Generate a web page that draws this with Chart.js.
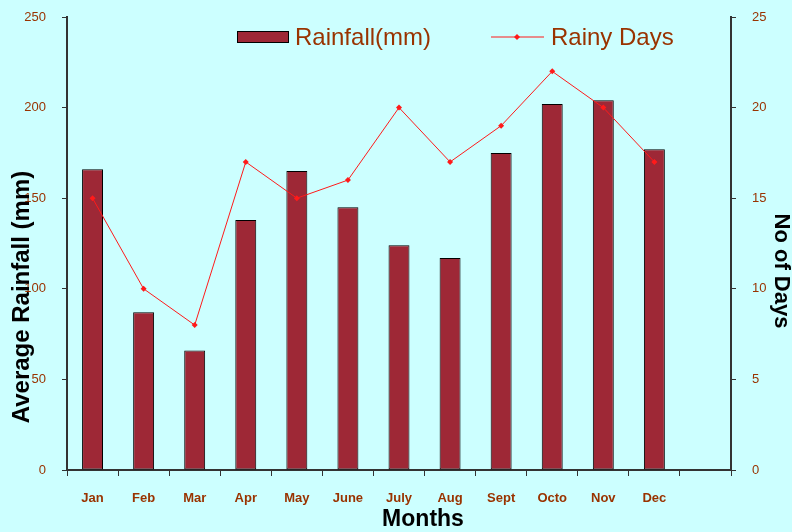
<!DOCTYPE html>
<html>
<head>
<meta charset="utf-8">
<script src="https://cdn.jsdelivr.net/npm/chart.js@4"></script>
<style>
  html, body { margin: 0; padding: 0; background: #ccffff; }
  #wrap { width: 792px; height: 532px; }
</style>
</head>
<body>
<div id="wrap"><canvas id="rain-chart" width="792" height="532"></canvas></div>
<script>
// months (last slot is left empty, as in the original)
const months = ["Jan", "Feb", "Mar", "Apr", "May", "June", "July", "Aug", "Sept", "Octo", "Nov", "Dec", ""];
const rainfall = [166, 87, 66, 138, 165, 145, 124, 117, 175, 202, 204, 177, null];
const rainyDays = [15, 10, 8, 17, 15, 16, 20, 17, 19, 22, 20, 17, null];
const brown = "#993300";
const fontName = "'Liberation Sans', Arial, sans-serif";

// legend drawn inside the plot area, bar swatch + line with marker
const insideLegend = {
    id: "insideLegend",
    afterDraw(chart) {
        const c = chart.ctx;
        const ds = chart.data.datasets;
        const area = chart.chartArea;
        let x = area.left + 170;
        const y = area.top + 20;
        c.save();
        c.font = "24px " + fontName;
        c.textBaseline = "middle";
        c.fillStyle = ds[0].backgroundColor;
        c.strokeStyle = "#000";
        c.lineWidth = 1;
        c.fillRect(x, y - 6, 52, 12);
        c.strokeRect(x + 0.5, y - 5.5, 51, 11);
        c.fillStyle = brown;
        c.fillText(ds[0].label, x + 58, y + 1);
        x += 58 + c.measureText(ds[0].label).width + 60;
        c.strokeStyle = ds[1].borderColor;
        c.beginPath();
        c.moveTo(x, y);
        c.lineTo(x + 53, y);
        c.stroke();
        c.fillStyle = ds[1].borderColor;
        c.beginPath();
        c.moveTo(x + 26, y - 3);
        c.lineTo(x + 29, y);
        c.lineTo(x + 26, y + 3);
        c.lineTo(x + 23, y);
        c.fill();
        c.fillStyle = brown;
        c.fillText(ds[1].label, x + 60, y + 1);
        c.restore();
    }
};

// axis titles, placed like the original (not centred on the axes)
const axisTitles = {
    id: "axisTitles",
    afterDraw(chart) {
        const c = chart.ctx;
        const area = chart.chartArea;
        c.save();
        c.fillStyle = "#000";
        c.textAlign = "center";
        c.textBaseline = "middle";
        c.font = "bold 23px " + fontName;
        c.fillText("Months", area.left + 356, chart.height - 12);
        c.save();
        c.font = "bold 24px " + fontName;
        c.translate(22, area.top + 280);
        c.rotate(-Math.PI / 2);
        c.fillText("Average Rainfall (mm)", 0, 0);
        c.restore();
        c.save();
        c.font = "bold 22px " + fontName;
        c.translate(chart.width - 11, area.top + 254);
        c.rotate(Math.PI / 2);
        c.fillText("No of Days", 0, 0);
        c.restore();
        c.restore();
    }
};

const ctx = document.getElementById("rain-chart").getContext("2d");
const rainChart = new Chart(ctx, {
    data: {
        labels: months,
        datasets: [
            {
                type: "bar",
                label: "Rainfall(mm)",
                data: rainfall,
                yAxisID: "y",
                order: 1,
                backgroundColor: "#9e2836",
                borderColor: "#000000",
                borderWidth: 1,
                borderSkipped: false,
                categoryPercentage: 1,
                barPercentage: 0.41,
            },
            {
                type: "line",
                label: "Rainy Days",
                data: rainyDays,
                yAxisID: "y2",
                order: 0,
                borderColor: "#ff1a1a",
                backgroundColor: "#ff1a1a",
                borderWidth: 1,
                pointStyle: "rectRot",
                pointRadius: 3,
                pointBorderWidth: 0,
                tension: 0,
            },
        ],
    },
    options: {
        responsive: false,
        animation: false,
        layout: { autoPadding: false, padding: { top: 17, right: 0, left: 0, bottom: 0 } },
        plugins: {
            legend: { display: false },
            tooltip: { enabled: false },
        },
        scales: {
            x: {
                offset: true,
                grid: { display: true, drawOnChartArea: false, offset: true, color: "#333", tickLength: 6 },
                border: { color: "#333", width: 2 },
                ticks: {
                    color: brown,
                    font: { family: "'Liberation Sans', Arial", size: 13, weight: "bold" },
                    padding: 15,
                    maxRotation: 0,
                },
                afterFit(scale) { scale.height = 62; },
            },
            y: {
                position: "left",
                min: 0,
                max: 250,
                ticks: {
                    stepSize: 50,
                    color: brown,
                    font: { family: "'Liberation Sans', Arial", size: 13 },
                    padding: 16,
                },
                grid: { drawOnChartArea: false, color: "#333", tickLength: 5 },
                border: { color: "#333", width: 2 },
                afterFit(scale) {
                    scale.width = 67;
                    scale.paddingTop = 0;
                    scale.paddingBottom = 0;
                },
            },
            y2: {
                position: "right",
                min: 0,
                max: 25,
                ticks: {
                    stepSize: 5,
                    color: brown,
                    font: { family: "'Liberation Sans', Arial", size: 13 },
                    padding: 16,
                },
                grid: { drawOnChartArea: false, color: "#333", tickLength: 5 },
                border: { color: "#333", width: 2 },
                afterFit(scale) {
                    scale.width = 61;
                    scale.paddingTop = 0;
                    scale.paddingBottom = 0;
                },
            },
        },
    },
    plugins: [insideLegend, axisTitles],
});
</script>
</body>
</html>
